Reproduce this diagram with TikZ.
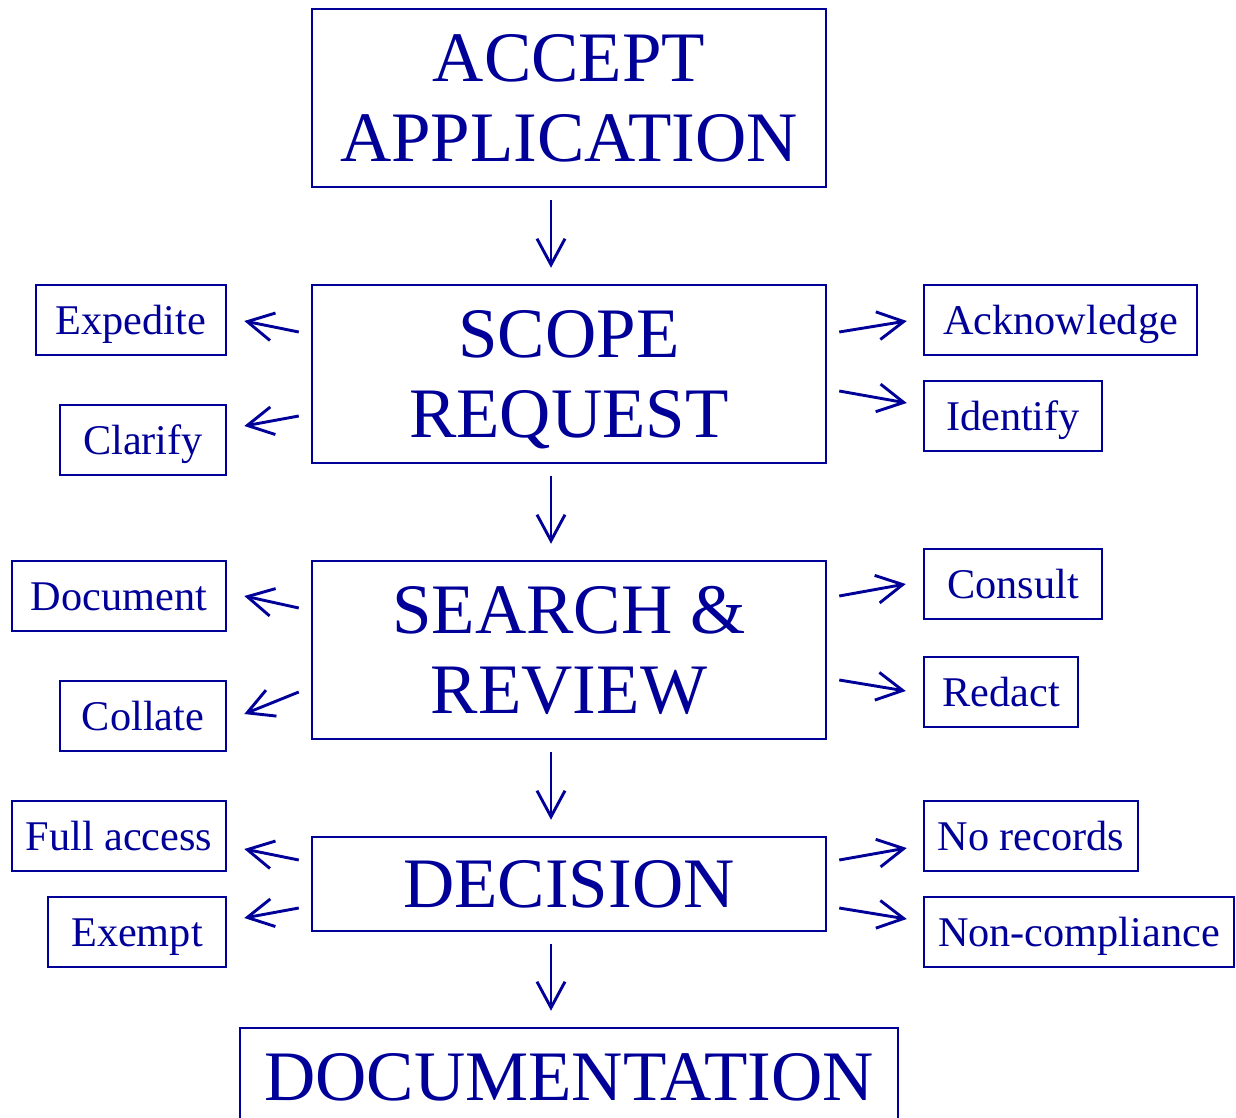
\documentclass[tikz,border=0pt]{standalone}
\usepackage{fontspec}
\setmainfont{Liberation Serif}
\usetikzlibrary{arrows.meta,calc}
\definecolor{inkblue}{RGB}{0,0,153}

\begin{document}
\begin{tikzpicture}[x=1pt, y=-1pt, line width=2.5pt, inkblue,
  every node/.style={draw, text=inkblue, inner sep=0pt},
  stage/.style={minimum width=514pt, minimum height=178pt, text depth=0pt, align=center, font=\fontsize{71}{80}\selectfont},
  side/.style={minimum height=70pt, text height=29pt, text depth=0pt, font=\fontsize{42.3}{48}\selectfont},
  flow/.style={->, line width=2.9pt},
  >={Straight Barb[length=26pt, width=28pt]}]
	\useasboundingbox (0,0) rectangle (1236,1118);
	\clip (0,0) rectangle (1236,1118);
	% main stages
	\node[stage] (accept) at (569,98) {ACCEPT\\APPLICATION};
	\node[stage] (scope) at (569,374) {SCOPE\\REQUEST};
	\node[stage] (search) at (569,650) {SEARCH \&\\REVIEW};
	\node[stage, minimum height=94pt] (decision) at (569,884) {DECISION};
	\node[stage, minimum width=658pt, minimum height=98pt] (docs) at (569,1077) {DOCUMENTATION};
	\foreach \a/\b in {accept/scope, scope/search, search/decision, decision/docs}
		\draw[flow, shorten <=12pt, shorten >=16pt] ([xshift=-18pt]\a.south) -- ([xshift=-18pt]\b.north);
	% scope request
	\node[side, minimum width=190pt] (expedite) at (131,320) {Expedite};
	\node[side, minimum width=166pt] (clarify) at (143,440) {Clarify};
	\node[side, minimum width=273pt] (acknowledge) at (1060.5,320) {Acknowledge};
	\node[side, minimum width=178pt] (identify) at (1013,416) {Identify};
	\draw[flow] ($(scope.west)+(-12,-42)$) -- ($(expedite.east)+(17,1)$);
	\draw[flow] ($(scope.west)+(-12,42)$) -- ($(clarify.east)+(17,-14)$);
	\draw[flow] ($(scope.east)+(12,-42)$) -- ($(acknowledge.west)+(-16,1)$);
	\draw[flow] ($(scope.east)+(12,17)$) -- ($(identify.west)+(-16,-13)$);
	% search & review
	\node[side, minimum width=214pt] (document) at (119,596) {Document};
	\node[side, minimum width=166pt] (collate) at (143,716) {Collate};
	\node[side, minimum width=178pt] (consult) at (1013,584) {Consult};
	\node[side, minimum width=154pt] (redact) at (1001,692) {Redact};
	\draw[flow] ($(search.west)+(-12,-42)$) -- ($(document.east)+(17,0)$);
	\draw[flow] ($(search.west)+(-12,42)$) -- ($(collate.east)+(17,-2)$);
	\draw[flow] ($(search.east)+(12,-54)$) -- ($(consult.west)+(-17,0)$);
	\draw[flow] ($(search.east)+(12,30)$) -- ($(redact.west)+(-17,-1)$);
	% decision
	\node[side, minimum width=214pt] (full) at (119,836) {Full access};
	\node[side, minimum width=178pt] (exempt) at (137,932) {Exempt};
	\node[side, minimum width=214pt] (norecords) at (1031,836) {No records};
	\node[side, minimum width=310pt] (noncomp) at (1079,932) {Non-compliance};
	\draw[flow] ($(decision.west)+(-12,-24)$) -- ($(full.east)+(17,13)$);
	\draw[flow] ($(decision.west)+(-12,24)$) -- ($(exempt.east)+(17,-14)$);
	\draw[flow] ($(decision.east)+(12,-24)$) -- ($(norecords.west)+(-16,12)$);
	\draw[flow] ($(decision.east)+(12,24)$) -- ($(noncomp.west)+(-16,-13)$);
\end{tikzpicture}
\end{document}
